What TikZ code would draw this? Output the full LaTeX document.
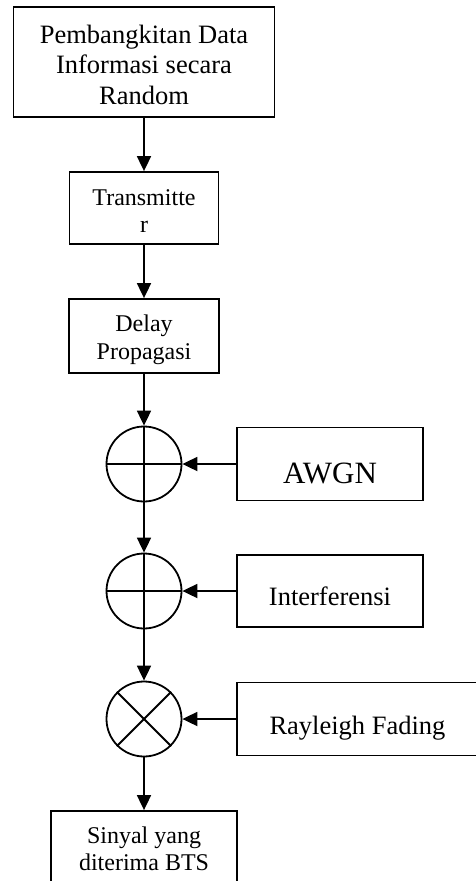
\documentclass[tikz,border=0pt]{standalone}
\usepackage{fontspec}
\setmainfont{Liberation Serif}
\usetikzlibrary{arrows.meta}
\tikzset{
  box/.style={draw, line width=1.8pt, rectangle, inner sep=0pt},
  sumnode/.style={draw, line width=1.8pt, circle, minimum size=75pt, inner sep=0pt},
  lbl/.style={inner sep=0pt, align=center},
  arr/.style={line width=1.8pt, -{Triangle[width=14pt,length=15pt]}},
  ln/.style={line width=1.8pt},
}
\begin{document}
\begin{tikzpicture}[x=1pt,y=-1pt]
\useasboundingbox (0,0) rectangle (476,881);
% boxes
\node[box, minimum width=261pt, minimum height=110pt] (src) at (144,62) {};
\node[box, minimum width=149pt, minimum height=72pt] (tx) at (144,208) {};
\node[box, minimum width=150pt, minimum height=74pt] (delay) at (144,336) {};
\node[box, minimum width=186pt, minimum height=73pt] (awgn) at (330,464) {};
\node[box, minimum width=186pt, minimum height=72pt] (intf) at (330,591) {};
\node[box, minimum width=241pt, minimum height=73pt] (ray) at (357.5,719) {};
\node[box, minimum width=186pt, minimum height=90pt] (rx) at (144,856) {};
% circles
\node[sumnode] (c1) at (144,464) {};
\node[sumnode] (c2) at (144,591) {};
\node[sumnode] (c3) at (144,719) {};
% texts
\node[lbl, font=\fontsize{26.5}{30.5}\selectfont] (tsrc) at (144,64.5) {Pembangkitan Data\\Informasi secara\\Random};
\node[lbl, font=\fontsize{24}{27}\selectfont] (ttx) at (144,211.5) {Transmitte\\r};
\node[lbl, font=\fontsize{24}{28}\selectfont] (tdelay) at (144,340) {Delay\\Propagasi};
\node[lbl, font=\fontsize{31}{36}\selectfont, anchor=base] (tawgn) at (330,483) {AWGN};
\node[lbl, font=\fontsize{26.5}{30}\selectfont, anchor=base] (tintf) at (330,605) {Interferensi};
\node[lbl, font=\fontsize{26.5}{30}\selectfont, anchor=base] (tray) at (357.5,734) {Rayleigh Fading};
\node[lbl, font=\fontsize{24}{27}\selectfont] (trx) at (144,848.5) {Sinyal yang\\diterima BTS};
% symbols in circles
\draw[ln] (c1.west) -- (c1.east);
\draw[ln] (c1.north) -- (c1.south);
\draw[ln] (c2.west) -- (c2.east);
\draw[ln] (c2.north) -- (c2.south);
\draw[ln] (c3.north west) -- (c3.south east);
\draw[ln] (c3.north east) -- (c3.south west);
% connectors
\draw[arr] (src.south) -- (tx.north);
\draw[arr] (tx.south) -- (delay.north);
\draw[arr] (delay.south) -- (c1.north);
\draw[arr] (c1.south) -- (c2.north);
\draw[arr] (c2.south) -- (c3.north);
\draw[arr] (c3.south) -- (rx.north);
\draw[arr] (awgn.west) -- (c1.east);
\draw[arr] (intf.west) -- (c2.east);
\draw[arr] (ray.west) -- (c3.east);
\end{tikzpicture}
\end{document}
